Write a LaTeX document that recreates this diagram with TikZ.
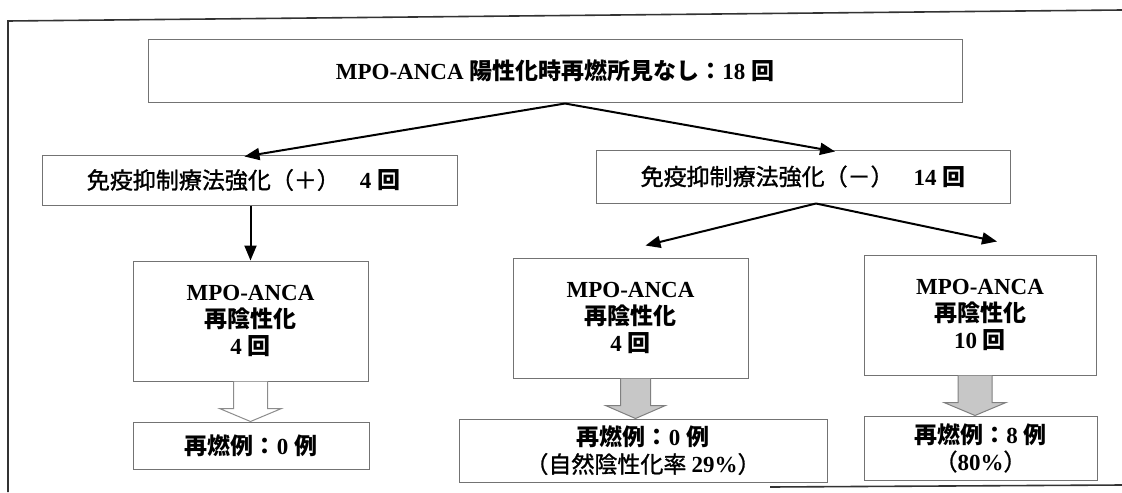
\documentclass[tikz,border=0pt]{standalone}
\usepackage{fontspec}
\setmainfont{Liberation Serif}
\newfontfamily\jp{Noto Sans CJK JP}
\newfontfamily\jpmed{Noto Sans CJK JP}[FakeBold=1.2]
\usetikzlibrary{arrows.meta,calc}
\newcommand\jt[1]{{\jp\bfseries #1}}
\newcommand\jm[1]{{\jpmed\mdseries #1}}
\begin{document}
\begin{tikzpicture}[x=0.5pt,y=-0.5pt,
  box/.style={draw=black!55, line width=0.5pt, fill=white, align=center, inner sep=0pt,
    font=\fontsize{11.5}{13.5}\selectfont\bfseries},
  arr/.style={line width=1pt, -{Triangle[length=7.5pt,width=6pt]}},
  frame/.style={draw=black!80, line width=0.8pt},
  blockg/.style={draw=black!50, fill=black!22, line width=0.5pt},
  blockw/.style={draw=black!45, fill=white, line width=0.5pt}]
\path[use as bounding box] (0,0) rectangle (1122,492);
% outer frame
\coordinate (f1) at (8,21);
\coordinate (f2) at (1122,10);
\coordinate (f3) at (8,492);
\coordinate (f4) at (770,487);
\coordinate (f5) at (1122,485);
\draw[frame] (f3) -- (f1) -- (f2);
\draw[frame] (f4) -- (f5);
% boxes
\node[box, minimum width=407pt, minimum height=31pt] (top) at (555,71)
  {MPO-ANCA \jt{陽性化時再燃所見なし：}18 \jt{回}};
\node[box, minimum width=207.5pt, minimum height=25pt] (plus) at (249.5,180)
  {\hspace{-6pt}\jm{免疫抑制療法強化（＋）}\hspace{10pt}4 \jt{回}};
\node[box, minimum width=207pt, minimum height=26.5pt] (minus) at (803,176.5)
  {\jm{免疫抑制療法強化（－）}\hspace{10pt}14 \jt{回}};
\node[box, minimum width=117.5pt, minimum height=60pt] (lmpo) at (250.5,321)
  {MPO-ANCA\\\jt{再陰性化}\\4 \jt{回}};
\node[box, minimum width=117.5pt, minimum height=60pt] (mmpo) at (630.5,318)
  {MPO-ANCA\\\jt{再陰性化}\\4 \jt{回}};
\node[box, minimum width=116pt, minimum height=60pt] (rmpo) at (980,315)
  {MPO-ANCA\\\jt{再陰性化}\\10 \jt{回}};
\node[box, minimum width=118pt, minimum height=23.5pt] (lres) at (251,445.5)
  {\jt{再燃例：}0 \jt{例}};
\node[box, minimum width=184pt, minimum height=31.5pt] (mres) at (643,450.5)
  {\jt{再燃例：}0 \jt{例}\\\jm{（自然陰性化率 }29\%\jm{）}};
\node[box, minimum width=116.5pt, minimum height=32pt] (rres) at (980.5,448)
  {\jt{再燃例：}8 \jt{例}\\\jm{（}80\%\jm{）}};
% arrows
\draw[arr] ($(top.south)+(10,1)$) -- ($(plus.north)+(-5,2)$);
\draw[arr] ($(top.south)+(10,1)$) -- ($(minus.north)+(32,2)$);
\draw[arr] (plus.south -| lmpo.north) -- (lmpo.north);
\draw[arr] ($(minus.south)+(13,0)$) -- ($(mmpo.north)+(15,-12)$);
\draw[arr] ($(minus.south)+(13,0)$) -- ($(rmpo.north)+(17,-13)$);
% block arrows
\draw[blockw] ($(lmpo.south)+(-17,0)$) -- ++(0,27) -- ++(-14,0) -- ($(lmpo.south)+(0,40)$)
  -- ($(lmpo.south)+(31,27)$) -- ++(-14,0) -- ($(lmpo.south)+(17,0)$);
\draw[blockg] ($(mmpo.south)+(-10,0)$) -- ++(0,27) -- ++(-15,0) -- ($(mmpo.south)+(5,40)$)
  -- ($(mmpo.south)+(35,27)$) -- ++(-15,0) -- ($(mmpo.south)+(20,0)$);
\draw[blockg] ($(rmpo.south)+(-22,0)$) -- ++(0,27) -- ++(-14,0) -- ($(rmpo.south)+(-5,40)$)
  -- ($(rmpo.south)+(26,27)$) -- ++(-14,0) -- ($(rmpo.south)+(12,0)$);
\end{tikzpicture}
\end{document}
